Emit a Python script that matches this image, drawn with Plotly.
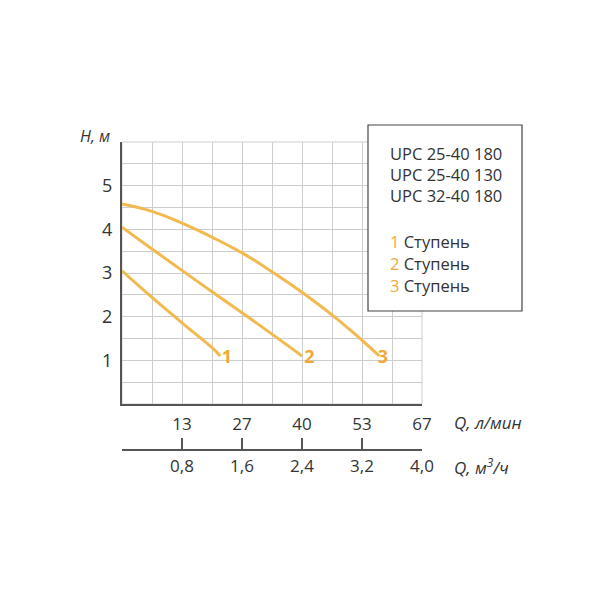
import plotly.graph_objects as go

# ---- data (Q in m3/h, H in m) ----
q1 = [0, 0.4, 0.8, 1.2, 1.31]
h1 = [3.05, 2.44, 1.86, 1.29, 1.10]
q2 = [0, 0.4, 0.8, 1.2, 1.6, 2.0, 2.4]
h2 = [4.05, 3.55, 3.06, 2.57, 2.09, 1.60, 1.10]
q3 = [0, 0.4, 0.8, 1.2, 1.6, 2.0, 2.4, 2.8, 3.2, 3.43]
h3 = [4.58, 4.41, 4.14, 3.82, 3.46, 3.03, 2.56, 2.04, 1.46, 1.10]

curve_labels = ["1", "2", "3"]
label_q = [1.40, 2.50, 3.48]
label_h = [1.05, 1.05, 1.05]

lpm_vals = [0.8, 1.6, 2.4, 3.2, 4.0]
lpm_text = ["13", "27", "40", "53", "67"]
m3h_vals = [0, 0.8, 1.6, 2.4, 3.2, 4.0]
m3h_text = ["", "0,8", "1,6", "2,4", "3,2", "4,0"]
h_vals = [1, 2, 3, 4, 5]

models = ["UPC 25-40 180", "UPC 25-40 130", "UPC 32-40 180"]
stages = ["1", "2", "3"]

LINE = "#F2B94F"
NUM = "#EFA93A"
GRID = "#cdcdcd"
AX = "#555555"
TXT = "#333333"
FONT = "Open Sans"

fig = go.Figure()
for q, h in [(q1, h1), (q2, h2), (q3, h3)]:
    fig.add_trace(go.Scatter(x=q, y=h, mode="lines",
                             line=dict(color=LINE, width=3, shape="spline", smoothing=1.3),
                             hoverinfo="skip", showlegend=False))
fig.add_trace(go.Scatter(x=label_q, y=label_h, mode="text", text=curve_labels,
                         textfont=dict(family=FONT, size=18, color=NUM, weight="bold"),
                         hoverinfo="skip", showlegend=False))
# invisible trace to carry the second x axis
fig.add_trace(go.Scatter(x=q3, y=h3, xaxis="x2", mode="lines", opacity=0,
                         line=dict(width=0), hoverinfo="skip", showlegend=False))

OFF = 8  # page offset of the rendered figure
W, H = 600, 600
L, R, T, B = 122 - OFF, 600 - 422 + OFF, 142 - OFF, 600 - 450 + OFF
pw, ph = W - L - R, H - T - B


def px(xp):
    return (xp - OFF - L) / pw


def py(yp):
    return (H - B - (yp - OFF)) / ph


ydom0 = (450 - 404) / ph

fig.update_layout(
    width=W, height=H,
    margin=dict(l=L, r=R, t=T, b=B, pad=0),
    paper_bgcolor="white", plot_bgcolor="white",
    font=dict(family=FONT, size=15, color=TXT),
    xaxis=dict(range=[0, 4.0], tickvals=lpm_vals, ticktext=lpm_text,
               showgrid=True, gridcolor=GRID, gridwidth=1,
               minor=dict(dtick=0.4, tick0=0, showgrid=True, gridcolor=GRID, gridwidth=1),
               showline=True, linecolor=AX, linewidth=2, ticks="",
               zeroline=False, anchor="y", ticklabelstandoff=4,
               tickfont=dict(size=17, color=TXT)),
    xaxis2=dict(range=[0, 4.0], overlaying="x", anchor="free", position=0, side="bottom",
                tickvals=m3h_vals, ticktext=m3h_text, showgrid=False, zeroline=False,
                showline=True, linecolor=AX, linewidth=1.5,
                ticks="inside", ticklen=11, tickwidth=1.5, tickcolor=AX,
                ticklabelstandoff=1, tickfont=dict(size=17, color=TXT)),
    yaxis=dict(range=[0, 6], domain=[ydom0, 1], tickvals=h_vals,
               showgrid=True, gridcolor=GRID, gridwidth=1,
               minor=dict(dtick=0.5, tick0=0, showgrid=True, gridcolor=GRID, gridwidth=1),
               showline=True, linecolor=AX, linewidth=2, ticks="", zeroline=False,
               ticklabelstandoff=4, tickfont=dict(size=18, color=TXT)),
)

# plot border in grid colour
fig.add_shape(type="rect", xref="x domain", yref="y domain", x0=0, x1=1, y0=0, y1=1,
              line=dict(color=GRID, width=1), layer="below")

# legend box
fig.add_shape(type="rect", xref="paper", yref="paper",
              x0=px(368), x1=px(522), y0=py(311), y1=py(125),
              line=dict(color="#444444", width=1.2), fillcolor="white", layer="above")

ann = []
for i, m in enumerate(models):
    ann.append(dict(x=px(388), y=py(153 + 21 * i), xref="paper", yref="paper",
                    text=m, showarrow=False, xanchor="left", yanchor="middle",
                    font=dict(size=16.5, color=TXT)))
for i, s in enumerate(stages):
    ann.append(dict(x=px(388), y=py(241 + 22 * i), xref="paper", yref="paper",
                    text=f"<span style='color:{NUM}'>{s}</span> Ступень",
                    showarrow=False, xanchor="left", yanchor="middle",
                    font=dict(size=16.5, color=TXT)))
ann.append(dict(x=px(112), y=py(136), xref="paper", yref="paper", text="<i>H, м</i>",
                showarrow=False, xanchor="right", yanchor="middle",
                font=dict(size=16, color=TXT)))
ann.append(dict(x=px(452), y=py(422), xref="paper", yref="paper", text="<i>Q, л/мин</i>",
                showarrow=False, xanchor="left", yanchor="middle",
                font=dict(size=17, color=TXT)))
ann.append(dict(x=px(452), y=py(466), xref="paper", yref="paper",
                text="<i>Q, м<sup>3</sup>/ч</i>",
                showarrow=False, xanchor="left", yanchor="middle",
                font=dict(size=17, color=TXT)))
fig.update_layout(annotations=ann)

fig.write_html("out.html")
